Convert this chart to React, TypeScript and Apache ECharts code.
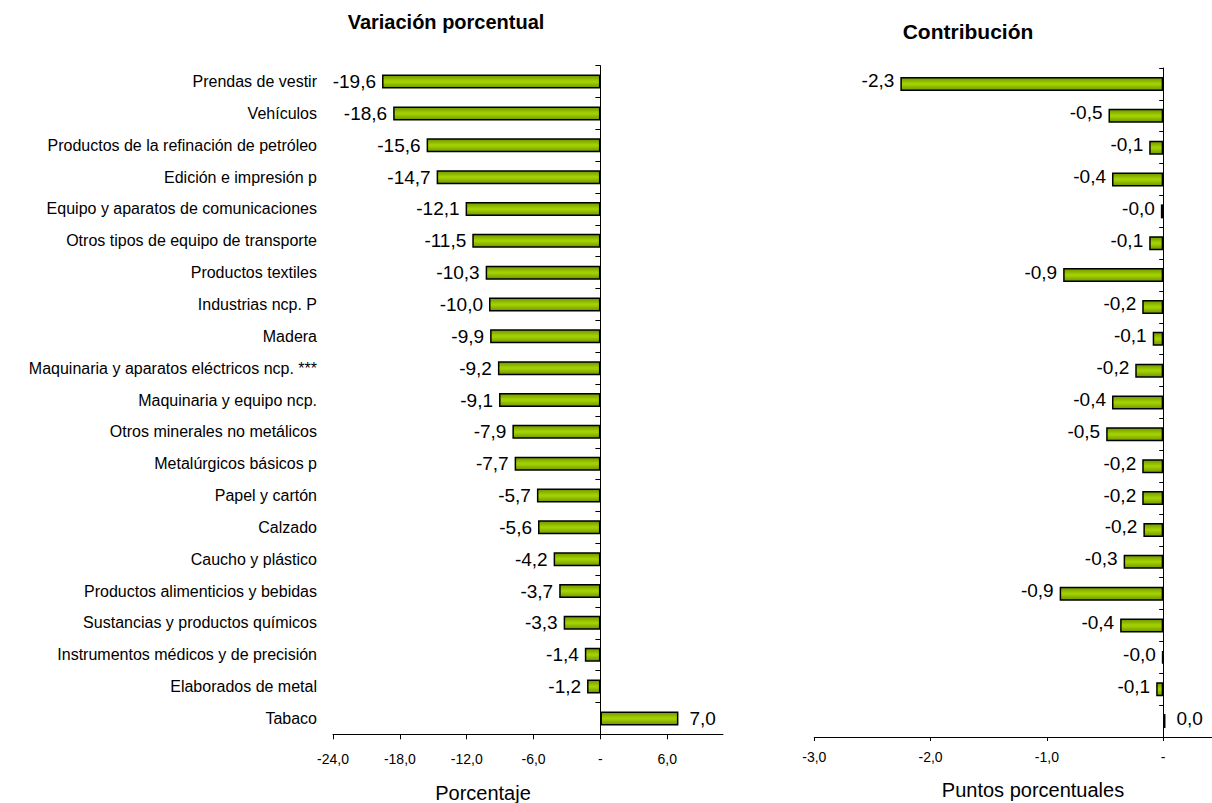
import React, { useEffect, useRef } from "react";
import * as echarts from "echarts";

const categories = [
  "Prendas de vestir",
  "Vehículos",
  "Productos de la refinación de petróleo",
  "Edición e impresión p",
  "Equipo y aparatos de comunicaciones",
  "Otros tipos de equipo de transporte",
  "Productos textiles",
  "Industrias ncp. P",
  "Madera",
  "Maquinaria y aparatos eléctricos ncp. ***",
  "Maquinaria y equipo ncp.",
  "Otros minerales no metálicos",
  "Metalúrgicos básicos p",
  "Papel y cartón",
  "Calzado",
  "Caucho y plástico",
  "Productos alimenticios y bebidas",
  "Sustancias y productos químicos",
  "Instrumentos médicos y de precisión",
  "Elaborados de metal",
  "Tabaco",
];

const variacion = [
  -19.6, -18.6, -15.6, -14.7, -12.1, -11.5, -10.3, -10.0, -9.9, -9.2, -9.1,
  -7.9, -7.7, -5.7, -5.6, -4.2, -3.7, -3.3, -1.4, -1.2, 7.0,
];

const contribucion = [
  -2.26, -0.47, -0.12, -0.44, -0.02, -0.12, -0.86, -0.18, -0.09, -0.24, -0.44,
  -0.49, -0.18, -0.18, -0.17, -0.34, -0.89, -0.37, -0.01, -0.06, 0.02,
];

const leftTicks = [-24, -18, -12, -6, 0, 6];
const rightTicks = [-3, -2, -1, 0];

const FONT = "'Liberation Sans', Arial, sans-serif";

const fmt = (v: number) => {
  if (v === 0) return "-";
  return v.toFixed(1).replace(".", ",");
};
const fmtVal = (v: number) => v.toFixed(1).replace(".", ",");

const barColor = new echarts.graphic.LinearGradient(0, 0, 0, 1, [
  { offset: 0, color: "#6f9600" },
  { offset: 0.45, color: "#a2d000" },
  { offset: 0.55, color: "#a2d000" },
  { offset: 1, color: "#6f9600" },
]);

function buildData(values: number[]) {
  return values.map((v) => ({
    value: v,
    label: {
      position: v < 0 ? "left" : "right",
      distance: v < 0 ? 6 : 11,
    },
  }));
}

export default function App() {
  const ref = useRef<HTMLDivElement>(null);
  useEffect(() => {
    if (!ref.current) return;
    const chart = echarts.init(ref.current, undefined, { renderer: "svg" });
    const valueLabel = {
      show: true,
      fontFamily: FONT,
      fontSize: 19,
      color: "#000",
      formatter: (p: any) => fmtVal(p.value),
    };
    chart.setOption({
      animation: false,
      backgroundColor: "#fff",
      textStyle: { fontFamily: FONT },
      grid: [
        { left: 333, top: 65.7, width: 390, height: 668.6, outerBoundsMode: "none", containLabel: false },
        { left: 814.3, top: 68, width: 397.7, height: 669, outerBoundsMode: "none", containLabel: false },
      ],
      xAxis: [
        {
          type: "value",
          gridIndex: 0,
          min: -24,
          max: 11,
          splitLine: { show: false },
          axisLine: { show: true, onZero: false, lineStyle: { color: "#000", width: 1 } },
          axisTick: { show: true, length: 5, customValues: leftTicks, lineStyle: { color: "#000" } },
          axisLabel: {
            customValues: leftTicks,
            formatter: (v: number) => fmt(v),
            fontSize: 14,
            color: "#000",
            fontFamily: FONT,
            margin: 18,
          },
        },
        {
          type: "value",
          gridIndex: 1,
          min: -3,
          max: 0.42,
          splitLine: { show: false },
          axisLine: { show: true, onZero: false, lineStyle: { color: "#000", width: 1 } },
          axisTick: { show: true, length: 4, customValues: rightTicks, lineStyle: { color: "#000" } },
          axisLabel: {
            customValues: rightTicks,
            formatter: (v: number) => fmt(v),
            fontSize: 14,
            color: "#000",
            fontFamily: FONT,
            margin: 13,
          },
        },
      ],
      yAxis: [
        {
          type: "category",
          gridIndex: 0,
          data: categories,
          inverse: true,
          axisLine: { show: true, onZero: true, lineStyle: { color: "#000", width: 1 } },
          axisTick: { show: true, length: 5, lineStyle: { color: "#000" } },
          axisLabel: {
            show: true,
            margin: 16,
            fontSize: 16,
            color: "#000",
            fontFamily: FONT,
          },
        },
        {
          type: "category",
          gridIndex: 1,
          data: categories,
          inverse: true,
          axisLine: { show: true, onZero: true, lineStyle: { color: "#000", width: 1 } },
          axisTick: { show: true, length: 4, lineStyle: { color: "#000" } },
          axisLabel: { show: false },
        },
      ],
      series: [
        {
          type: "bar",
          xAxisIndex: 0,
          yAxisIndex: 0,
          data: buildData(variacion),
          barWidth: 14,
          itemStyle: { color: barColor, borderColor: "#000", borderWidth: 1.5 },
          label: valueLabel,
        },
        {
          type: "bar",
          xAxisIndex: 1,
          yAxisIndex: 1,
          data: buildData(contribucion),
          barWidth: 14,
          itemStyle: { color: barColor, borderColor: "#000", borderWidth: 1.5 },
          label: { ...valueLabel, offset: [0, -3] },
        },
      ],
      graphic: [
        {
          type: "text",
          x: 446,
          y: 22,
          style: {
            text: "Variación porcentual",
            font: `bold 20px ${FONT}`,
            fill: "#000",
            textAlign: "center",
            textVerticalAlign: "middle",
          },
        },
        {
          type: "text",
          x: 968,
          y: 31,
          style: {
            text: "Contribución",
            font: `bold 21px ${FONT}`,
            fill: "#000",
            textAlign: "center",
            textVerticalAlign: "middle",
          },
        },
        {
          type: "text",
          x: 483,
          y: 793,
          style: {
            text: "Porcentaje",
            font: `20px ${FONT}`,
            fill: "#000",
            textAlign: "center",
            textVerticalAlign: "middle",
          },
        },
        {
          type: "text",
          x: 1033,
          y: 790,
          style: {
            text: "Puntos porcentuales",
            font: `20px ${FONT}`,
            fill: "#000",
            textAlign: "center",
            textVerticalAlign: "middle",
          },
        },
      ],
    });
    return () => chart.dispose();
  }, []);
  return (
    <div
      ref={ref}
      style={{ position: "fixed", left: 0, top: 0, width: 1212, height: 803 }}
    />
  );
}
